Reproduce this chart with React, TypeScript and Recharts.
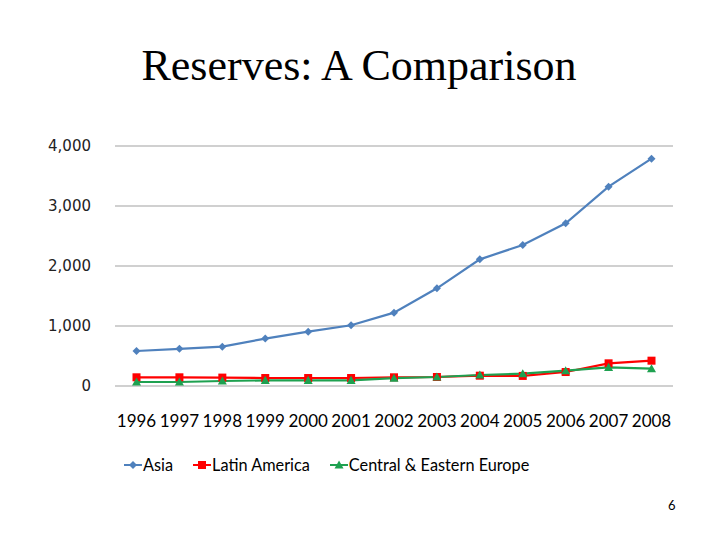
import React from 'react';
import { LineChart, Line, XAxis, YAxis, CartesianGrid, Legend } from 'recharts';

const YEARS = ['1996', '1997', '1998', '1999', '2000', '2001', '2002', '2003', '2004', '2005', '2006', '2007', '2008'];
const ASIA = [583, 620, 655, 790, 905, 1012, 1222, 1628, 2111, 2350, 2711, 3322, 3789];
const LATIN_AMERICA = [145, 145, 140, 133, 133, 133, 145, 150, 172, 168, 233, 378, 422];
const CEE = [67, 67, 83, 94, 94, 94, 130, 150, 183, 206, 256, 311, 289];
const Y_TICKS = [0, 1000, 2000, 3000, 4000];

const SERIES = [
  { key: 'asia', name: 'Asia', color: '#4f81bd', shape: 'diamond' },
  { key: 'latam', name: 'Latin America', color: '#ff0000', shape: 'square' },
  { key: 'cee', name: 'Central & Eastern Europe', color: '#1ea150', shape: 'triangle' },
];

const data = YEARS.map((y, i) => ({
  year: y,
  asia: ASIA[i],
  latam: LATIN_AMERICA[i],
  cee: CEE[i],
}));

const FONT = 'Lato, "Liberation Sans", sans-serif';

function Marker({ shape, color, cx, cy }: { shape: string; color: string; cx: number; cy: number }) {
  if (shape === 'diamond') {
    const r = 4;
    return <path d={`M${cx},${cy - r}L${cx + r},${cy}L${cx},${cy + r}L${cx - r},${cy}Z`} fill={color} />;
  }
  if (shape === 'square') {
    const r = 4;
    return <rect x={cx - r} y={cy - r} width={2 * r} height={2 * r} fill={color} />;
  }
  const r = 4.5;
  return <path d={`M${cx},${cy - r}L${cx + r},${cy + r * 0.8}L${cx - r},${cy + r * 0.8}Z`} fill={color} />;
}

function makeDot(shape: string, color: string) {
  return (props: any) => {
    const { cx, cy, index } = props;
    if (cx == null || cy == null) return <g key={index} />;
    return <Marker key={index} shape={shape} color={color} cx={cx} cy={cy} />;
  };
}

function LegendContent() {
  return (
    <div style={{ display: 'flex', alignItems: 'center', fontFamily: FONT, fontSize: 16.3, color: '#000' }}>
      {SERIES.map((s, i) => (
        <div key={s.key} style={{ display: 'flex', alignItems: 'center', marginRight: i < 2 ? 20 : 0 }}>
          <svg width={18} height={12} style={{ marginRight: 1 }}>
            <line x1={0} y1={6} x2={18} y2={6} stroke={s.color} strokeWidth={2} />
            <Marker shape={s.shape} color={s.color} cx={9} cy={6} />
          </svg>
          <span>{s.name}</span>
        </div>
      ))}
    </div>
  );
}

export default function App() {
  return (
    <div style={{ position: 'absolute', left: 0, top: 0, width: 720, height: 540, background: '#fff' }}>
      <div
        style={{
          position: 'absolute',
          left: 0,
          width: 718,
          top: 40,
          textAlign: 'center',
          fontFamily: '"Liberation Serif", "Times New Roman", serif',
          fontSize: 44,
          lineHeight: '52px',
        }}
      >
        Reserves: A Comparison
      </div>
      <LineChart width={720} height={540} data={data} margin={{ top: 146, right: 47, bottom: 124, left: 55 }}>
        <CartesianGrid vertical={false} stroke="#c0c0c0" strokeWidth={1.3} />
        <XAxis
          dataKey="year"
          axisLine={false}
          tickLine={false}
          padding={{ left: 21.5, right: 21.5 }}
          height={30}
          tickMargin={23}
          interval={0}
          tick={{ fill: '#000', fontSize: 17, fontFamily: FONT }}
        />
        <YAxis
          width={60}
          domain={[0, 4000]}
          ticks={Y_TICKS}
          axisLine={false}
          tickLine={false}
          tickMargin={18}
          tickFormatter={(v: number) => v.toLocaleString('en-US')}
          tick={{ fill: '#222', fontSize: 15, fontFamily: '"DejaVu Sans", sans-serif' }}
        />
        <Legend
          layout="horizontal"
          verticalAlign="middle"
          align="center"
          wrapperStyle={{ top: 455, left: 124, width: 'auto' }}
          content={() => <LegendContent />}
        />
        {SERIES.map((s) => (
          <Line
            key={s.key}
            type="linear"
            dataKey={s.key}
            name={s.name}
            stroke={s.color}
            strokeWidth={2.2}
            dot={makeDot(s.shape, s.color)}
            activeDot={false}
            isAnimationActive={false}
          />
        ))}
      </LineChart>
      <div style={{ position: 'absolute', left: 668, top: 497, fontFamily: FONT, fontSize: 13 }}>6</div>
    </div>
  );
}
